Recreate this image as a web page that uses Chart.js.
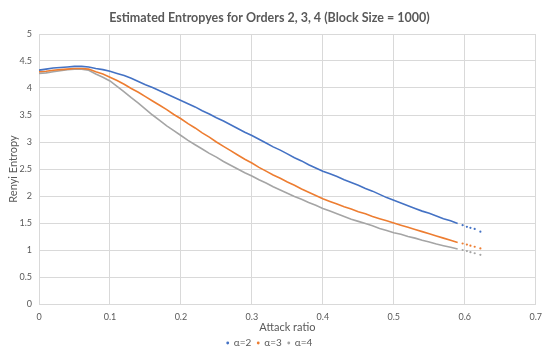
<!DOCTYPE html>
<html>
<head>
<meta charset="utf-8">
<script src="https://cdn.jsdelivr.net/npm/chart.js@4/dist/chart.umd.min.js"></script>
<style>
  html, body { margin: 0; padding: 0; background: #fff; }
  #wrap { width: 550px; height: 352px; }
</style>
</head>
<body>
<div id="wrap"><canvas id="chart"></canvas></div>
<script>
// Attack ratio (x) and estimated Renyi entropies
const attackRatio = [
  0, 0.01, 0.02, 0.03, 0.04, 0.05, 0.06, 0.07, 0.08, 0.09,
  0.10, 0.11, 0.12, 0.13, 0.14, 0.15, 0.16, 0.17, 0.18, 0.19,
  0.20, 0.21, 0.22, 0.23, 0.24, 0.25, 0.26, 0.27, 0.28, 0.29,
  0.30, 0.31, 0.32, 0.33, 0.34, 0.35, 0.36, 0.37, 0.38, 0.39,
  0.40, 0.41, 0.42, 0.43, 0.44, 0.45, 0.46, 0.47, 0.48, 0.49,
  0.50, 0.51, 0.52, 0.53, 0.54, 0.55, 0.56, 0.57, 0.58, 0.59,
  0.597, 0.603, 0.608, 0.614, 0.622
];
const entropyA2 = [
  4.33, 4.35, 4.37, 4.38, 4.39, 4.40, 4.40, 4.39, 4.36, 4.34,
  4.31, 4.27, 4.23, 4.18, 4.12, 4.06, 4.01, 3.95, 3.89, 3.83,
  3.77, 3.71, 3.65, 3.58, 3.52, 3.45, 3.39, 3.32, 3.25, 3.18,
  3.12, 3.05, 2.98, 2.91, 2.85, 2.78, 2.71, 2.65, 2.58, 2.52,
  2.46, 2.41, 2.36, 2.30, 2.25, 2.20, 2.14, 2.09, 2.03, 1.97,
  1.92, 1.87, 1.82, 1.77, 1.72, 1.68, 1.63, 1.58, 1.54, 1.49,
  1.46, 1.43, 1.41, 1.39, 1.34
];
const entropyA3 = [
  4.30, 4.31, 4.33, 4.34, 4.35, 4.36, 4.36, 4.35, 4.30, 4.26,
  4.20, 4.14, 4.07, 3.99, 3.92, 3.84, 3.76, 3.68, 3.60, 3.51,
  3.43, 3.34, 3.26, 3.17, 3.09, 3.00, 2.92, 2.84, 2.76, 2.68,
  2.61, 2.53, 2.46, 2.39, 2.33, 2.26, 2.20, 2.13, 2.07, 2.01,
  1.95, 1.90, 1.85, 1.80, 1.76, 1.71, 1.67, 1.62, 1.58, 1.54,
  1.50, 1.46, 1.42, 1.38, 1.34, 1.30, 1.26, 1.22, 1.18, 1.14,
  1.12, 1.10, 1.08, 1.06, 1.03
];
const entropyA4 = [
  4.27, 4.28, 4.30, 4.32, 4.34, 4.35, 4.35, 4.33, 4.26, 4.20,
  4.13, 4.03, 3.93, 3.82, 3.72, 3.61, 3.50, 3.40, 3.30, 3.21,
  3.12, 3.03, 2.95, 2.87, 2.79, 2.72, 2.64, 2.57, 2.50, 2.43,
  2.37, 2.30, 2.24, 2.17, 2.11, 2.05, 1.99, 1.94, 1.88, 1.83,
  1.77, 1.72, 1.67, 1.62, 1.57, 1.53, 1.49, 1.45, 1.40, 1.36,
  1.32, 1.29, 1.25, 1.22, 1.18, 1.15, 1.11, 1.08, 1.05, 1.02,
  1.00, 0.98, 0.96, 0.94, 0.91
];
const seriesNames = ['α=2', 'α=3', 'α=4'];
const seriesColors = ['#4472C4', '#ED7D31', '#A5A5A5'];

// past this ratio the estimates are only sparse dots
const sparseFrom = 0.59;

const textColor = '#595959';
const gridColor = '#D9D9D9';
const font = 'Lato, "Open Sans", sans-serif';

function toPoints(values) {
  return attackRatio.map((x, i) => ({ x: x, y: values[i] }));
}

const datasets = [entropyA2, entropyA3, entropyA4].map((vals, i) => ({
  label: seriesNames[i],
  data: toPoints(vals),
  showLine: true,
  borderColor: seriesColors[i],
  backgroundColor: seriesColors[i],
  borderWidth: 1.6,
  pointStyle: 'circle',
  pointRadius: ctx => (ctx.raw && ctx.raw.x > sparseFrom ? 1.1 : 0),
  pointBorderWidth: 0,
  segment: {
    borderColor: ctx => (ctx.p0.parsed.x >= sparseFrom ? 'transparent' : undefined)
  }
}));

new Chart(document.getElementById('chart'), {
  type: 'scatter',
  data: { datasets: datasets },
  options: {
    responsive: true,
    maintainAspectRatio: false,
    animation: false,
    layout: { padding: { left: 0, right: 11, top: 0, bottom: 0 } },
    plugins: {
      title: {
        display: true,
        text: 'Estimated Entropyes for Orders 2, 3, 4 (Block Size = 1000)',
        color: textColor,
        font: { family: font, size: 12.5, weight: 'bold' },
        padding: { top: 10, bottom: 9 }
      },
      legend: {
        position: 'bottom',
        maxHeight: 20,
        labels: {
          color: textColor,
          font: { family: font, size: 10 },
          usePointStyle: true,
          boxWidth: 2,
          boxHeight: 2,
          padding: 6
        }
      },
      tooltip: { enabled: false }
    },
    scales: {
      x: {
        type: 'linear',
        min: 0,
        max: 0.7,
        ticks: { stepSize: 0.1, color: textColor, font: { family: font, size: 9 }, padding: 8 },
        grid: { color: gridColor, drawTicks: false },
        border: { color: gridColor },
        title: {
          display: true,
          text: 'Attack ratio',
          color: textColor,
          font: { family: font, size: 11 },
          padding: { top: 0, bottom: -2 }
        },
        afterFit: scale => { scale.height = 28; }
      },
      y: {
        min: 0,
        max: 5,
        ticks: {
          stepSize: 0.5,
          color: textColor,
          font: { family: font, size: 9 },
          padding: 7,
          callback: v => String(Number(v.toFixed(1)))
        },
        grid: { color: gridColor, drawTicks: false },
        border: { display: false },
        title: {
          display: true,
          text: 'Renyi Entropy',
          color: textColor,
          font: { family: font, size: 11 },
          padding: { top: 7, bottom: 0 }
        },
        afterFit: scale => { scale.width = 39; }
      }
    }
  }
});
</script>
</body>
</html>
